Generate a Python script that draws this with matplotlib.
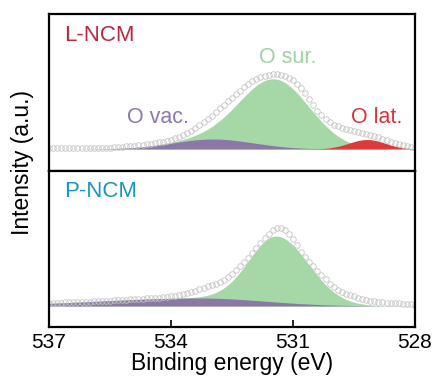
import numpy as np
import matplotlib
matplotlib.use("Agg")
import matplotlib.pyplot as plt

plt.rcParams['font.family'] = ['Liberation Sans', 'DejaVu Sans']

# binding energy grid of the measured points (eV)
energy = np.linspace(537, 528, 91)

lncm_data = [1, 1, 1, 1, 1, 1, 1, 1, 1, 1, 1, 1, 1, 1, 1.5,
             1.5, 2, 2, 2.5, 3, 3, 3.5, 4, 4.5, 5,
             5.5, 6, 7, 7.5, 8.5, 9.5, 11, 12, 14, 16,
             18.5, 21, 24, 27, 30, 33.5, 37, 41, 44.5, 48,
             51.5, 55, 58.5, 62, 65, 68, 70, 72, 73.5, 74.5,
             75, 75, 74.5, 73.5, 71.5, 69, 65.5, 61, 56, 50.5,
             44, 38, 34, 30, 27, 24.5, 23, 21.5, 20.5, 19.5,
             18.5, 17.5, 16.5, 15.5, 14.5, 13, 12, 10.5, 9, 7.5,
             6, 5, 4, 3, 2, 1.5]
pncm_data = [3.5, 3.5, 3.5, 3.5, 4, 4, 4, 4, 4, 4.5,
             4.5, 5, 5, 5, 5.5, 5.5, 6, 6, 6.5, 6.5,
             7, 7, 7.5, 7.5, 8, 8, 8.5, 8.5, 9, 9.5,
             10, 10.5, 11, 12, 13, 14, 15.5, 17, 18.5, 20,
             21, 22.5, 24.5, 26.5, 29, 32.5, 36, 40, 44, 48,
             53, 58, 63, 68, 72.5, 76, 78, 78, 76, 72.5,
             67.5, 61, 54, 49, 44.5, 40, 35.5, 31, 27, 22.5,
             19, 16.5, 14.5, 12.5, 11, 10, 8.5, 7.5, 6.5, 5.5,
             5, 4.5, 4, 3.5, 3.5, 3, 3, 2.5, 2, 2, 1.5]

# fitted components: center (eV), height, left width, right width
lncm_vac = (532.97, 10, 1.0, 1.0)
lncm_sur = (531.44, 67, 0.85, 0.85)
lncm_lat = (529.18, 9.5, 0.45, 0.45)
pncm_vac = (533.3, 8, 2.5, 1.6)
pncm_sur = (531.40, 66, 0.68, 0.78)

c_green = '#a6d7a7'
c_purple = '#8b78a6'
c_red = '#dc3b3b'


def peak(x, p):
    c, h, wl, wr = p
    w = np.where(x > c, wl, wr)
    return h * np.exp(-(x - c) ** 2 / (2 * w ** 2))


def draw_panel(ax, data, vac, sur, lat=None):
    x = np.linspace(537, 528, 600)
    v = peak(x, vac)
    s = peak(x, sur)
    ax.fill_between(x, 0, v + s, color=c_green, lw=0)
    ax.fill_between(x, 0, v, color=c_purple, lw=0)
    if lat is not None:
        ax.fill_between(x, 0, peak(x, lat), color=c_red, lw=0)
    ax.plot(energy, data, 'o', ms=4.0, mfc='none', mec='#c4c4c4', mew=0.6)
    ax.set_xlim(537, 528)
    ax.set_yticks([])
    for sp in ax.spines.values():
        sp.set_linewidth(1.6)


fig = plt.figure(figsize=(4.38, 3.9), dpi=100)
ax1 = fig.add_axes([0.1119, 0.5615, 0.8356, 0.4026])
ax2 = fig.add_axes([0.1119, 0.1615, 0.8356, 0.4])

draw_panel(ax1, lncm_data, lncm_vac, lncm_sur, lncm_lat)
ax1.set_ylim(-22, 135)
ax1.set_xticks([])

draw_panel(ax2, pncm_data, pncm_vac, pncm_sur)
ax2.set_ylim(-21, 135)
ax2.set_xticks([537, 534, 531, 528])
ax2.tick_params(axis='x', direction='in', length=5, width=1.2, labelsize=15, pad=4)
ax2.set_xlabel('Binding energy (eV)', fontsize=16.5, labelpad=0)

ax1.text(0.04, 0.86, 'L-NCM', transform=ax1.transAxes, fontsize=16, color='#b8283e', va='center')
ax1.text(534.32, 32, 'O vac.', fontsize=15.5, color=c_purple, ha='center', va='center')
ax1.text(531.12, 92, 'O sur.', fontsize=15.5, color='#9fd3a0', ha='center', va='center')
ax1.text(528.94, 32, 'O lat.', fontsize=15.5, color='#d9343a', ha='center', va='center')
ax2.text(0.04, 0.87, 'P-NCM', transform=ax2.transAxes, fontsize=16, color='#1597c3', va='center')

fig.text(22 / 438, 1 - 162 / 390, 'Intensity (a.u.)', rotation=90, fontsize=16.5,
         ha='center', va='center')

fig.savefig('out.png', dpi=100)
